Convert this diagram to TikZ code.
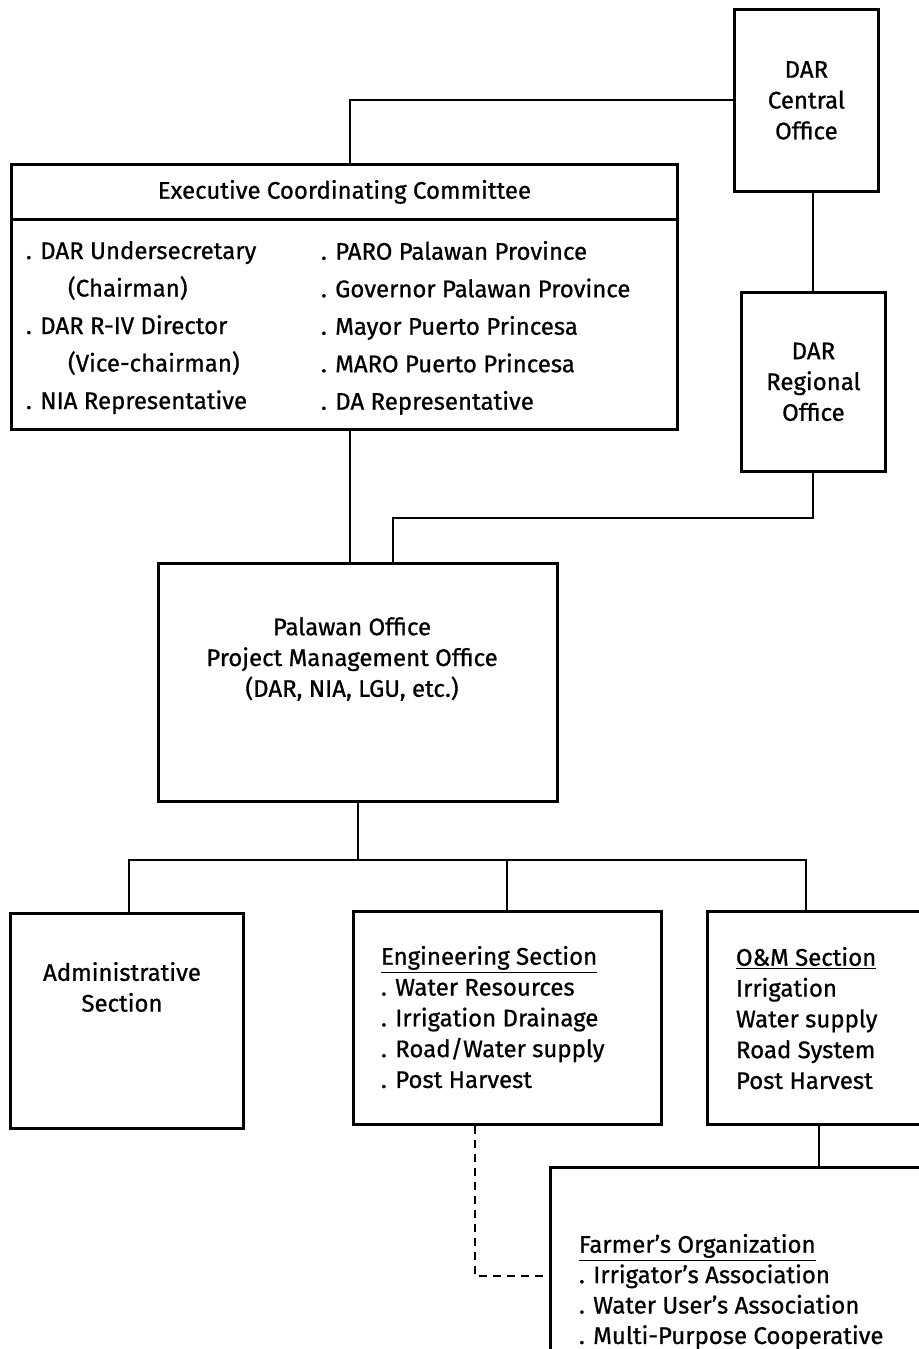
\documentclass[tikz,border=0pt]{standalone}
\usepackage{fontspec}
\setmainfont{Fira Sans}[FakeBold=0.8]
\usetikzlibrary{positioning}
\begin{document}
\begin{tikzpicture}[x=0.5pt,y=-0.5pt,line width=1pt,
        every node/.style={font=\fontsize{12}{15.4}\selectfont}]
        \tikzstyle{box}=[draw, line width=1.4pt, inner sep=0pt, anchor=north west, align=center]
        \tikzstyle{txt}=[inner sep=0pt, anchor=north west, align=left]
        \useasboundingbox (0,0) rectangle (919,1349);
        \clip (0,0) rectangle (919,1349);
        % upper level
        \node [box, minimum width=72pt, minimum height=91pt] (central) at (733,8) {DAR\\Central\\Office};
        \node [box, minimum width=333pt, minimum height=27.5pt] (ectitle) at (10,163) {Executive Coordinating Committee};
        \node [box, minimum width=333pt, minimum height=105pt] (ecbody) at (10,218) {};
        \node [txt, font=\fontsize{12}{18.75}\selectfont] (ecleft) at (25,240)
          {. DAR Undersecretary\\\hspace*{21pt}(Chairman)\\. DAR R-IV Director\\\hspace*{21pt}(Vice-chairman)\\. NIA Representative};
        \node [txt, font=\fontsize{12}{18.75}\selectfont] (ecright) at (320,240)
          {. PARO Palawan Province\\. Governor Palawan Province\\. Mayor Puerto Princesa\\. MARO Puerto Princesa\\. DA Representative};
        \node [box, minimum width=72pt, minimum height=89.5pt] (regional) at (740,291) {DAR\\Regional\\Office};
        % project office
        \node [box, minimum width=199.5pt, minimum height=119pt] (pmo) at (157,562) {};
        \node [align=center, inner sep=0pt] (pmotext) at (352,659) {Palawan Office\\Project Management Office\\(DAR, NIA, LGU, etc.)};
        % sections
        \node [box, minimum width=116.5pt, minimum height=107.5pt] (adm) at (9,912) {};
        \node [align=center, inner sep=0pt] (admtext) at (122,987) {Administrative\\Section};
        \node [box, minimum width=154pt, minimum height=106.5pt] (eng) at (352,910) {};
        \node [txt] (engtext) at (380,945)
          {\underline{Engineering Section}\\. Water Resources\\. Irrigation Drainage\\. Road/Water supply\\. Post Harvest};
        \node [box, minimum width=120pt, minimum height=106.5pt] (om) at (706,910) {};
        \node [txt] (omtext) at (735,946)
          {\underline{O\&M Section}\\Irrigation\\Water supply\\Road System\\Post Harvest};
        \node [box, minimum width=210pt, minimum height=125pt] (far) at (549,1166) {};
        \node [txt, font=\fontsize{12}{15.2}\selectfont] (fartext) at (578,1233)
          {\underline{Farmer's Organization}\\. Irrigator's Association\\. Water User's Association\\. Multi-Purpose Cooperative};
        % connectors
        \coordinate (bus) at (352,860);
        \draw (central.west) -| ([xshift=3pt]ectitle.north);
        \draw (regional.north) -- (regional.north |- central.south);
        \draw ([xshift=3pt]ecbody.south) -- ([xshift=3pt]ecbody.south |- pmo.north);
        \draw (regional.south) -- ++(0,45) -| ([xshift=17.5pt]pmo.north);
        \draw (pmo.south) -- (pmo.south |- bus);
        \draw ([xshift=1pt]adm.north) |- (bus) -| ([xshift=-10.5pt]om.north);
        \draw (eng.north) -- (eng.north |- bus);
        \draw ([xshift=-4pt]om.south) -- ([xshift=-4pt]om.south |- far.north);
        \draw [dash pattern=on 4pt off 3pt] ([xshift=-16pt]eng.south) |- ([yshift=8pt]far.west);
\end{tikzpicture}
\end{document}
